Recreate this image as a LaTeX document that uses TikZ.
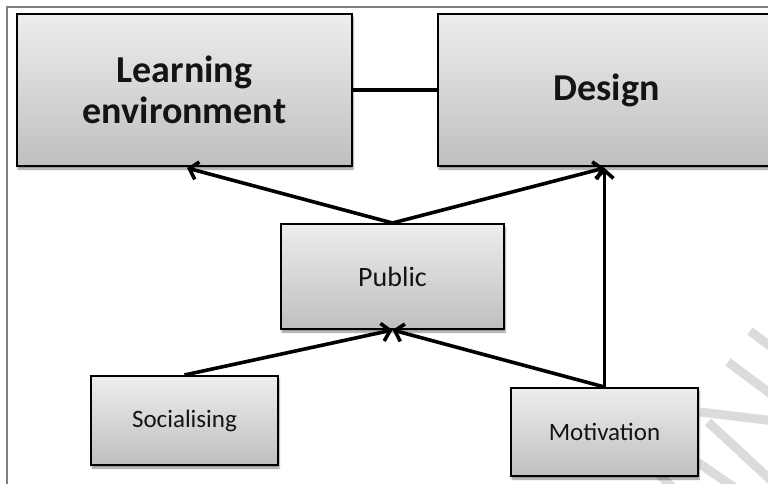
\documentclass[tikz,border=0pt]{standalone}
\usepackage{fontspec}
\setmainfont{Carlito}
\usetikzlibrary{shadows.blur,arrows.meta,calc}
\tikzset{
  box/.style={draw=black, line width=2pt, top color=gray!14, bottom color=gray!50,
    blur shadow={shadow xshift=1pt, shadow yshift=-3pt, shadow blur steps=6, shadow opacity=45},
    inner sep=0pt, align=center, text=black!92},
  bigtxt/.style={font=\fontsize{38}{41}\selectfont\bfseries},
  midtxt/.style={font=\fontsize{28}{32}\selectfont},
  smalltxt/.style={font=\fontsize{25}{29}\selectfont},
  conn/.style={line width=3.6pt},
  arr/.style={conn, -{Straight Barb[length=8pt,width=18pt,line width=3.6pt]}},
  wm/.style={line width=9pt, draw=black!14},
  frame/.style={draw=black!50, line width=1.5pt}
}
\begin{document}
\begin{tikzpicture}[x=1pt,y=-1pt]
\useasboundingbox (0,0) rectangle (768,484);
% frame
\coordinate (fb) at (7,490);
\coordinate (fc) at (7,7);
\coordinate (fr) at (775,7);
\draw[frame] (fb) -- (fc) -- (fr);
% watermark strokes
\draw[wm] (750,331) -- (775,350);
\draw[wm] (728,362) -- (775,397);
\draw[wm] (700,412) -- (775,421);
\draw[wm] (708,422) -- (775,484);
\draw[wm] (697,462) -- (738,490);
\draw[wm] (655,470) -- (675,490);
% nodes
\node[box, bigtxt, minimum width=335pt, minimum height=152pt] (le) at (184.5,90) {Learning\\environment};
\node[box, bigtxt, minimum width=337pt, minimum height=152pt] (des) at (606.5,90) {Design};
\node[box, midtxt, minimum width=223pt, minimum height=105pt] (pub) at (392.5,276.5) {Public};
\node[box, smalltxt, minimum width=187pt, minimum height=89pt] (soc) at (184.5,420.5) {Socialising};
\node[box, smalltxt, minimum width=187pt, minimum height=88pt] (mot) at (604.5,432) {Motivation};
% connectors
\coordinate (dt) at ($(mot.north |- des.south)+(0,1)$);
\coordinate (lt) at ($(le.south)+(2.5,1)$);
\draw[conn] (le.east) -- (des.west);
\draw[arr] (pub.north) -- (lt);
\draw[arr] (pub.north) -- (dt);
\draw[arr] (mot.north) -- (dt);
\draw[arr] (soc.north) -- (pub.south);
\draw[arr] (mot.north) -- (pub.south);
\end{tikzpicture}
\end{document}
